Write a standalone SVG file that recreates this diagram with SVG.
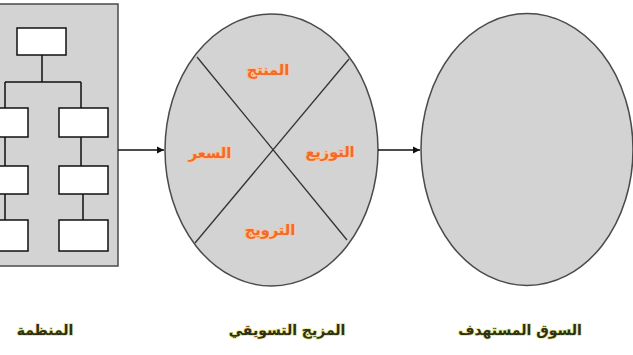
<svg xmlns="http://www.w3.org/2000/svg" width="633" height="355" viewBox="0 0 633 355">
<style>
.shape{fill:#d3d3d3;stroke:#4a4a4a;stroke-width:1.5}
.box{fill:#ffffff;stroke:#111;stroke-width:1.5}
.ln{stroke:#111;stroke-width:1.5;fill:none}
.div{stroke:#333;stroke-width:1.3}
.mix{font-family:"DejaVu Sans","Noto Sans",sans-serif;font-weight:bold;font-size:14.5px;fill:#f06a28;stroke:#f9c4a0;stroke-width:2;paint-order:stroke;text-anchor:middle}
.cap{font-family:"DejaVu Sans","Noto Sans",sans-serif;font-weight:bold;font-size:14px;fill:#2e2e1c;stroke:#e6e68a;stroke-width:1.5;paint-order:stroke;text-anchor:middle}
.conn{stroke:#111;stroke-width:1.5;fill:none}
</style>
<defs>
<marker id="arr" markerWidth="8" markerHeight="8" refX="7" refY="4" orient="auto" markerUnits="userSpaceOnUse">
<path d="M0,0.5 L7,4 L0,7.5 Z" fill="#111"/>
</marker>
</defs>
<rect width="633" height="355" fill="#ffffff"/>
<g id="organization">
<rect class="shape" x="-2" y="4" width="120" height="262"/>
<rect class="box" x="17" y="28" width="49" height="27"/>
<path class="ln" d="M42,55 V82 M5,82 H81 M5,82 V108 M81,82 V108 M5,137 V166 M81,137 V166 M5,194 V220 M83,194 V220"/>
<rect class="box" x="-5" y="108" width="33" height="29"/>
<rect class="box" x="59" y="108" width="49" height="29"/>
<rect class="box" x="-5" y="166" width="33" height="28"/>
<rect class="box" x="59" y="166" width="49" height="28"/>
<rect class="box" x="-5" y="220" width="33" height="31"/>
<rect class="box" x="59" y="220" width="49" height="31"/>
<text class="cap" x="45" y="335">المنظمة</text>
</g>
<g id="marketing-mix">
<ellipse class="shape" cx="271.5" cy="150" rx="106.5" ry="136"/>
<line class="div" x1="197" y1="57" x2="347" y2="240"/>
<line class="div" x1="349" y1="59" x2="195" y2="243"/>
<text class="mix" x="268" y="75">المنتج</text>
<text class="mix" x="210" y="158">السعر</text>
<text class="mix" x="330" y="157">التوزيع</text>
<text class="mix" x="270" y="235">الترويج</text>
<text class="cap" x="287" y="335">المزيج التسويقي</text>
</g>
<g id="target-market">
<ellipse class="shape" cx="527" cy="149.5" rx="106" ry="136"/>
<text class="cap" x="520" y="335">السوق المستهدف</text>
</g>
<g id="connectors">
<line class="conn" x1="118" y1="150" x2="164" y2="150" marker-end="url(#arr)"/>
<line class="conn" x1="378" y1="150" x2="420" y2="150" marker-end="url(#arr)"/>
</g>
</svg>
